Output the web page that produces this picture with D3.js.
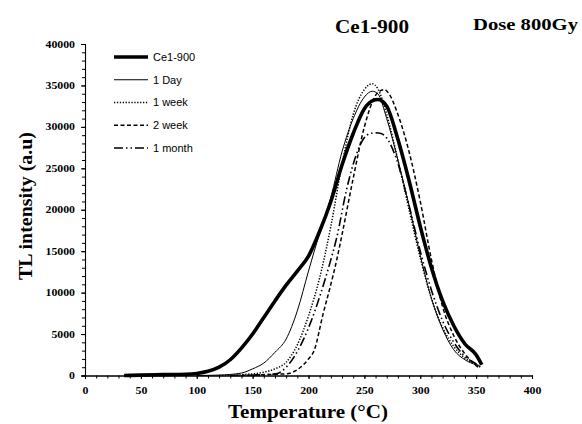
<!DOCTYPE html>
<html>
<head>
<meta charset="utf-8">
<script src="https://cdnjs.cloudflare.com/ajax/libs/d3/7.8.5/d3.min.js"></script>
<style>
	html, body { margin: 0; padding: 0; background: #fff; }
	svg { display: block; }
	.axis path, .axis line { stroke: #000; }
	.tick-label { font-family: "Liberation Serif", "Times New Roman", serif; font-weight: bold; font-size: 9.5px; }
	.title { font-family: "Liberation Serif", "Times New Roman", serif; font-weight: bold; }
	.legend text { font-family: "Liberation Sans", Arial, sans-serif; font-size: 11px; }
</style>
</head>
<body>
<svg id="chart" width="582" height="424"></svg>
<script>
"use strict";

// series labels, in legend order
var seriesNames = ["Ce1-900", "1 Day", "1 week", "2 week", "1 month"];

// Ce1-900 (fresh)
var ce1Temp = [35, 50, 70, 90, 100, 110, 120, 130, 140, 150, 160, 170, 180, 190, 200, 210, 220, 230, 240, 250, 258, 262, 266, 270, 280, 290, 300, 310, 320, 330, 340, 350, 355];
var ce1Int  = [0, 50, 100, 150, 250, 500, 1000, 1900, 3300, 5000, 7000, 9000, 10900, 12600, 14400, 17400, 21000, 25400, 29200, 32200, 33200, 33300, 33100, 32500, 28500, 23500, 18000, 13000, 9000, 6000, 3800, 2500, 1300];

// 1 Day
var day1Temp = [100, 120, 140, 150, 160, 170, 180, 190, 200, 210, 220, 230, 240, 250, 257, 262, 270, 280, 290, 300, 310, 320, 330, 340, 350, 353];
var day1Int  = [0, 50, 300, 800, 1500, 2800, 4400, 7800, 12600, 17200, 21500, 27000, 31000, 33600, 34300, 34000, 31000, 26000, 20500, 14500, 9300, 5600, 3100, 1900, 1300, 1200];

// 1 week
var week1Temp = [120, 140, 160, 170, 180, 190, 200, 210, 220, 230, 240, 250, 257, 262, 270, 280, 290, 300, 310, 320, 330, 340, 350, 353];
var week1Int  = [0, 100, 400, 800, 1600, 3700, 7200, 11800, 18000, 25500, 31500, 34500, 35200, 34600, 31500, 26000, 20000, 14200, 9300, 5800, 3500, 2100, 1300, 1100];

// 2 week
var week2Temp = [140, 160, 170, 180, 190, 200, 205, 213, 220, 225, 230, 240, 250, 260, 265, 268, 272, 280, 290, 300, 310, 320, 330, 340, 350, 353];
var week2Int  = [0, 100, 150, 200, 700, 2000, 3000, 7400, 11000, 13800, 17000, 23800, 30000, 33800, 34400, 34500, 34000, 31500, 27000, 21000, 14000, 8300, 4800, 2600, 1200, 900];

// 1 month
var month1Temp = [130, 150, 160, 171, 180, 195, 210, 219, 225, 234, 240, 249, 255, 260, 265, 273, 279, 290, 300, 310, 320, 330, 340, 350, 354];
var month1Int  = [0, 50, 100, 200, 1000, 4200, 9500, 13500, 16500, 22400, 25500, 28500, 29200, 29300, 29200, 28000, 26000, 20500, 15000, 10300, 6600, 4000, 2300, 1400, 1000];

// axis ticks
var xTicks = [0, 50, 100, 150, 200, 250, 300, 350, 400];
var yTicks = [0, 5000, 10000, 15000, 20000, 25000, 30000, 35000, 40000];

var svg = d3.select("#chart");

var x = d3.scaleLinear().domain([0, 400]).range([85, 532]),
	y = d3.scaleLinear().domain([0, 40000]).range([375.5, 44]);

var styles = [
	{ width: 3.6, dash: null },
	{ width: 1, dash: null },
	{ width: 1.5, dash: "1.3,1.6" },
	{ width: 1.5, dash: "4,2.5" },
	{ width: 1.6, dash: "9,3,1.5,3,1.5,3" }
];

var series = [
	[ce1Temp, ce1Int],
	[day1Temp, day1Int],
	[week1Temp, week1Int],
	[week2Temp, week2Int],
	[month1Temp, month1Int]
].map(function (s, i) {
	return {
		name: seriesNames[i],
		style: styles[i],
		values: s[0].map(function (t, j) { return { t: t, v: s[1][j] }; })
	};
});

/**
 * Draw both axes with minor ticks
 * @return {Void}
 */
var drawAxes = function () {
	// minor ticks first, no labels
	svg.append("g")
		.attr("class", "axis")
		.attr("transform", "translate(0," + y(0) + ")")
		.call(d3.axisBottom(x).tickValues(d3.range(0, 401, 10)).tickSize(3).tickFormat(""));

	svg.append("g")
		.attr("class", "axis")
		.attr("transform", "translate(" + x(0) + ",0)")
		.call(d3.axisLeft(y).tickValues(d3.range(0, 40001, 1000)).tickSize(3).tickFormat(""));

	var xa = svg.append("g")
		.attr("class", "axis")
		.attr("transform", "translate(0," + y(0) + ")")
		.call(d3.axisBottom(x).tickValues(xTicks).tickSize(3.5).tickPadding(8).tickFormat(d3.format("d")));

	var ya = svg.append("g")
		.attr("class", "axis")
		.attr("transform", "translate(" + x(0) + ",0)")
		.call(d3.axisLeft(y).tickValues(yTicks).tickSize(4).tickPadding(6).tickFormat(d3.format("d")));

	[xa, ya].forEach(function (a) {
		a.selectAll(".domain").attr("stroke-width", 1.1);
		a.selectAll("text")
			.attr("class", "tick-label")
			.attr("font-family", null)
			.attr("font-size", null)
			.attr("textLength", function (d) { return String(d).length * 5.9; })
			.attr("lengthAdjust", "spacingAndGlyphs");
	});
};

/**
 * Draw the glow curves
 * @return {Void}
 */
var drawLines = function () {
	var line = d3.line()
		.x(function (d) { return x(d.t); })
		.y(function (d) { return y(d.v); })
		.curve(d3.curveMonotoneX);

	svg.append("g").selectAll("path")
		.data(series.slice().reverse())
		.enter().append("path")
		.attr("d", function (d) { return line(d.values); })
		.attr("fill", "none")
		.attr("stroke", "#000")
		.attr("stroke-linejoin", "round")
		.attr("stroke-width", function (d) { return d.style.width; })
		.attr("stroke-dasharray", function (d) { return d.style.dash; });
};

/**
 * Legend in the top left of the plot
 * @return {Void}
 */
var drawLegend = function () {
	var rowY = d3.scalePoint().domain(seriesNames).range([57, 148]);

	var g = svg.append("g").attr("class", "legend")
		.selectAll("g")
		.data(series)
		.enter().append("g")
		.attr("transform", function (d) { return "translate(0," + rowY(d.name) + ")"; });

	g.append("line")
		.attr("x1", 114).attr("x2", 148)
		.attr("stroke", "#000")
		.attr("stroke-width", function (d) { return d.style.width; })
		.attr("stroke-dasharray", function (d) { return d.style.dash; });

	g.append("text")
		.attr("x", 153)
		.attr("dy", "0.35em")
		.text(function (d) { return d.name; });
};

/**
 * Titles and axis labels
 * @return {Void}
 */
var drawTitles = function () {
	svg.append("text").attr("class", "title")
		.attr("x", 372).attr("y", 33)
		.attr("text-anchor", "middle")
		.attr("font-size", 18)
		.attr("textLength", 74).attr("lengthAdjust", "spacingAndGlyphs")
		.text("Ce1-900");

	svg.append("text").attr("class", "title")
		.attr("x", 473).attr("y", 30)
		.attr("font-size", 17)
		.attr("textLength", 105).attr("lengthAdjust", "spacingAndGlyphs")
		.text("Dose 800Gy");

	svg.append("text").attr("class", "title")
		.attr("x", 308).attr("y", 418)
		.attr("text-anchor", "middle")
		.attr("font-size", 19)
		.attr("textLength", 160).attr("lengthAdjust", "spacingAndGlyphs")
		.text("Temperature (°C)");

	svg.append("text").attr("class", "title")
		.attr("transform", "translate(32,206) rotate(-90)")
		.attr("text-anchor", "middle")
		.attr("font-size", 19)
		.attr("textLength", 148).attr("lengthAdjust", "spacingAndGlyphs")
		.text("TL intensity (a.u)");
};

drawAxes();
drawLines();
drawLegend();
drawTitles();
</script>
</body>
</html>
